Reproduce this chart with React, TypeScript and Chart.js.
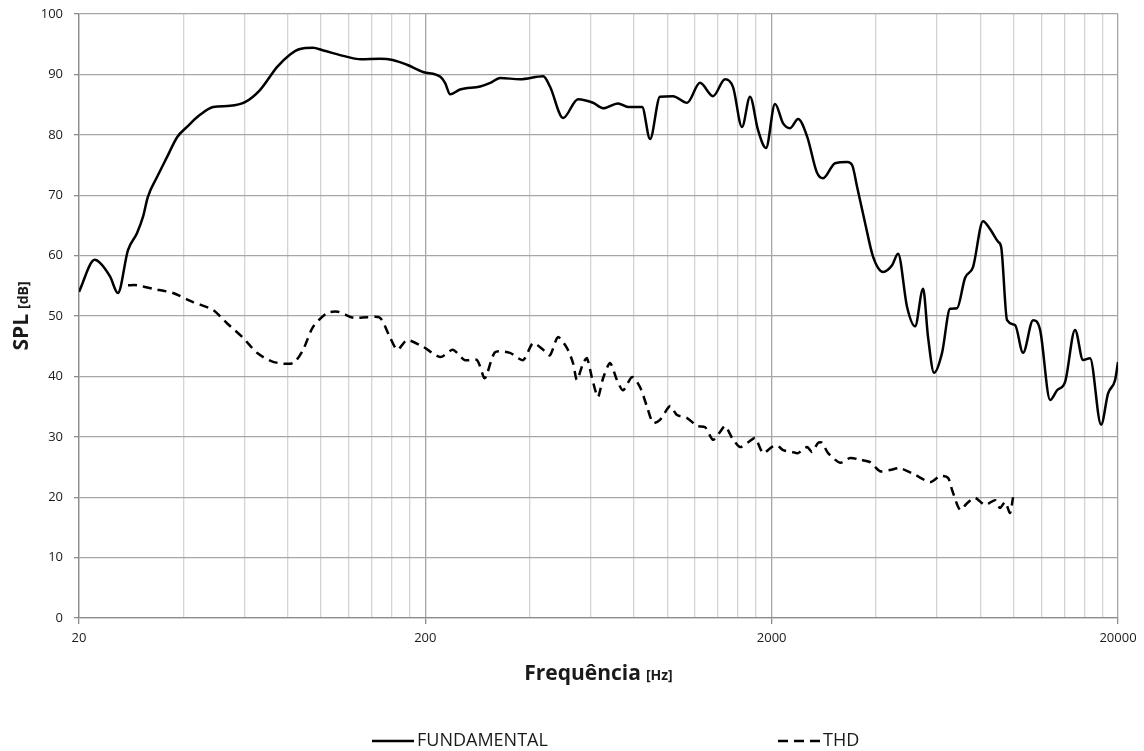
import React, { useEffect, useRef } from "react";
import { Chart, registerables } from "chart.js";

Chart.register(...registerables);

// Fundamental response (Hz, dB SPL)
const fundamentalHz = [
  20, 22.2, 23, 24.6, 25.9, 27.7, 29.4, 30.6, 31.6, 33.6, 35.9, 38.4, 41, 44.7, 48.8, 54.6, 60.3, 66.6,
  74.6, 81.4, 86.9, 94.8, 101, 119, 130, 148, 161, 177, 197, 221, 228, 236, 252, 288, 308, 329, 375, 438,
  458, 500, 552, 610, 652, 720, 770, 845, 891, 952, 1038, 1140, 1242, 1354, 1467, 1547, 1642, 1732, 1826,
  1926, 2045, 2158, 2260, 2384, 2532, 2704, 2814, 3049, 3303, 3414, 3529, 3722, 3926, 4196, 4454, 4634,
  4920, 5190, 5473, 5657, 5888, 6209, 6548, 6860, 7233, 7628, 8152, 8541, 9010, 9200, 9566, 10088, 10638,
  11372, 11914, 12736, 13340, 14070, 15034, 15854, 16608, 17872, 18726, 19618, 20000,
];
const fundamentalDb = [
  54, 59.3, 58.8, 56.5, 53.8, 60.9, 63.7, 66.4, 69.7, 73, 76.3, 79.6, 81.3, 83.3, 84.6, 84.8, 85.4, 87.4,
  91.2, 93.3, 94.2, 94.4, 94, 92.9, 92.5, 92.6, 92.4, 91.6, 90.4, 89.6, 88.6, 86.7, 87.5, 88, 88.6, 89.4,
  89.2, 89.7, 88, 82.8, 85.9, 85.3, 84.4, 85.2, 84.6, 84.6, 79.3, 86.3, 86.4, 85.3, 88.6, 86.4, 89.2, 87.9,
  81.3, 86.3, 80.8, 77.8, 85.1, 81.9, 81.1, 82.6, 79.7, 73.7, 72.8, 75.3, 75.5, 75, 71.4, 65.4, 59.8, 57.3,
  58.4, 60.3, 51.5, 48.3, 54.5, 46.5, 40.6, 43.9, 51.2, 51.3, 56.3, 58.1, 65.7, 64.4, 62.3, 61.4, 49.3,
  48.5, 43.9, 49.3, 47.7, 36.1, 37.7, 39.1, 47.7, 42.7, 43, 32, 37.2, 39.4, 42.4,
];

// Total harmonic distortion (Hz, dB SPL)
const thdHz = [
  27.7, 29.4, 32.7, 37.4, 42.7, 48.8, 53.5, 59.5, 65.3, 72.7, 83, 88.7, 94.8, 104, 112, 124, 136, 148, 158,
  166, 177, 197, 221, 240, 260, 282, 297, 318, 351, 383, 409, 438, 458, 483, 513, 534, 548, 571, 586, 606,
  630, 652, 683, 715, 745, 791, 834, 874, 909, 952, 1018, 1066, 1140, 1218, 1284, 1354, 1419, 1467, 1538,
  1621, 1710, 1792, 1889, 2000, 2072, 2158, 2290, 2384, 2532, 2617, 2723, 2796, 2911, 3153, 3368, 3600,
  3848, 4111, 4395, 4698, 5190, 5737, 6130, 6461, 6637, 6998, 7332, 7730, 8261, 8832, 9131, 9438, 9757,
  9954,
];
const thdDb = [
  55.1, 55.1, 54.5, 53.8, 52.3, 51, 48.8, 46.4, 43.9, 42.4, 42.2, 44.4, 48.2, 50.5, 50.7, 49.7, 49.8, 49.7,
  46.5, 44.4, 46, 44.9, 43.2, 44.4, 42.7, 42.7, 39.7, 44, 43.9, 42.7, 45.5, 44.4, 43.5, 46.5, 44.7, 42.2,
  39.4, 42.2, 43, 39.7, 36.6, 39.7, 42.2, 39.4, 37.7, 39.9, 38.2, 34.9, 32.3, 32.8, 35.1, 33.6, 33.1, 31.8,
  31.6, 29.5, 30.8, 31.8, 29.8, 28.3, 29.1, 29.8, 27.3, 28.3, 28.6, 27.8, 27.5, 27.3, 28.3, 27.5, 29, 29,
  27.3, 25.7, 26.5, 26.2, 25.8, 24.3, 24.5, 24.8, 23.7, 22.5, 23.5, 23.2, 21.2, 17.9, 19, 19.9, 18.7, 19.5,
  18.2, 19.2, 17.4, 20,
];

const seriesNames = ["FUNDAMENTAL", "THD"];
const xMin = 20;
const xMax = 20000;
const xLabelValues = [20, 200, 2000, 20000];
const yMin = 0;
const yMax = 100;
const yStep = 10;
const xTitle = ["Frequência", "[Hz]"];
const yTitle = ["SPL", "[dB]"];

const FONT = '"Open Sans", "DejaVu Sans", sans-serif';
const TEXT = "#1a1a1a";

// grid lines at every multiple of each decade start (20, 40, 60 ... 200, 400 ...)
const gridValues: number[] = [];
for (let d = xMin; d < xMax; d *= 10) {
  for (let k = 1; k <= 9; k++) gridValues.push(d * k);
}
gridValues.push(xMax);
const majorSet = new Set(xLabelValues);

function drawPair(
  ctx: CanvasRenderingContext2D,
  big: string,
  small: string,
  bigSize: number,
  smallSize: number,
  cx: number,
  baseline: number
) {
  const gap = 5;
  ctx.font = `bold ${bigSize}px ${FONT}`;
  const w1 = ctx.measureText(big).width;
  ctx.font = `bold ${smallSize}px ${FONT}`;
  const w2 = ctx.measureText(small).width;
  const start = cx - (w1 + gap + w2) / 2;
  ctx.textAlign = "left";
  ctx.textBaseline = "alphabetic";
  ctx.fillStyle = TEXT;
  ctx.font = `bold ${bigSize}px ${FONT}`;
  ctx.fillText(big, start, baseline);
  ctx.font = `bold ${smallSize}px ${FONT}`;
  ctx.fillText(small, start + w1 + gap, baseline);
}

const decorations = {
  id: "decorations",
  afterDraw(chart: any) {
    const { ctx, chartArea } = chart;
    const cx = (chartArea.left + chartArea.right) / 2;
    const cy = (chartArea.top + chartArea.bottom) / 2;
    ctx.save();
    // axis titles
    drawPair(ctx, xTitle[0], xTitle[1], 21, 14, cx, chartArea.bottom + 62);
    ctx.translate(28, cy);
    ctx.rotate(-Math.PI / 2);
    drawPair(ctx, yTitle[0], yTitle[1], 21, 14, 0, 0);
    ctx.restore();

    // legend
    ctx.save();
    const ly = chartArea.bottom + 123;
    const itemX = [372, 778];
    chart.data.datasets.forEach((ds: any, i: number) => {
      const x0 = itemX[i];
      ctx.strokeStyle = "#000";
      ctx.lineWidth = 2.5;
      ctx.setLineDash(i === 0 ? [] : [10, 6]);
      ctx.beginPath();
      ctx.moveTo(x0, ly);
      ctx.lineTo(x0 + 42, ly);
      ctx.stroke();
      ctx.setLineDash([]);
      ctx.font = `18px ${FONT}`;
      ctx.fillStyle = TEXT;
      ctx.textAlign = "left";
      ctx.textBaseline = "middle";
      ctx.fillText(ds.label, x0 + 45, ly);
    });
    ctx.restore();
  },
};

export default function App() {
  const canvasRef = useRef<HTMLCanvasElement>(null);

  useEffect(() => {
    const canvas = canvasRef.current;
    if (!canvas) return;
    const chart = new Chart(canvas, {
      type: "line",
      data: {
        datasets: [
          {
            label: seriesNames[0],
            data: fundamentalHz.map((x, i) => ({ x, y: fundamentalDb[i] })),
            borderColor: "#000",
            borderWidth: 2.5,
            pointRadius: 0,
            cubicInterpolationMode: "monotone",
            fill: false,
          },
          {
            label: seriesNames[1],
            data: thdHz.map((x, i) => ({ x, y: thdDb[i] })),
            borderColor: "#000",
            borderWidth: 2.5,
            borderDash: [9, 6],
            pointRadius: 0,
            tension: 0.25,
            fill: false,
          },
        ],
      },
      options: {
        animation: false,
        responsive: false,
        devicePixelRatio: 1,
        layout: { padding: { top: 14, right: 26, bottom: 0, left: 0 } },
        plugins: {
          legend: { display: false },
          tooltip: { enabled: false },
          title: { display: false },
        },
        scales: {
          x: {
            type: "logarithmic",
            min: xMin,
            max: xMax,
            afterBuildTicks: (scale: any) => {
              scale.ticks = gridValues.map((v) => ({ value: v }));
            },
            afterFit: (scale: any) => {
              scale.height = 133;
            },
            ticks: {
              autoSkip: false,
              maxRotation: 0,
              minRotation: 0,
              padding: 6,
              color: TEXT,
              font: { family: FONT, size: 13 },
              callback: (value: any) => (majorSet.has(Number(value)) ? String(value) : ""),
            },
            grid: {
              color: (c: any) => (c.tick && majorSet.has(c.tick.value) ? "#a6a6a6" : "#d4d4d4"),
              tickColor: (c: any) => (c.tick && majorSet.has(c.tick.value) ? "#8c8c8c" : "rgba(0,0,0,0)"),
              tickLength: 6,
              lineWidth: 1.3,
            },
            border: { color: "#8c8c8c", width: 1.3 },
          },
          y: {
            type: "linear",
            min: yMin,
            max: yMax,
            afterFit: (scale: any) => {
              scale.width = 79;
              scale.paddingTop = 4;
              scale.paddingBottom = 4;
            },
            ticks: {
              stepSize: yStep,
              padding: 11,
              color: TEXT,
              font: { family: FONT, size: 13 },
            },
            grid: {
              color: "#a6a6a6",
              tickColor: "#8c8c8c",
              tickLength: 5,
              lineWidth: 1.3,
            },
            border: { color: "#8c8c8c", width: 1.3 },
          },
        },
      },
      plugins: [decorations],
    } as any);
    return () => chart.destroy();
  }, []);

  return (
    <div
      style={{
        position: "fixed",
        left: 0,
        top: 0,
        width: 1144,
        height: 751,
        background: "#fff",
      }}
    >
      <canvas ref={canvasRef} width={1144} height={751} style={{ width: 1144, height: 751, display: "block" }} />
    </div>
  );
}
